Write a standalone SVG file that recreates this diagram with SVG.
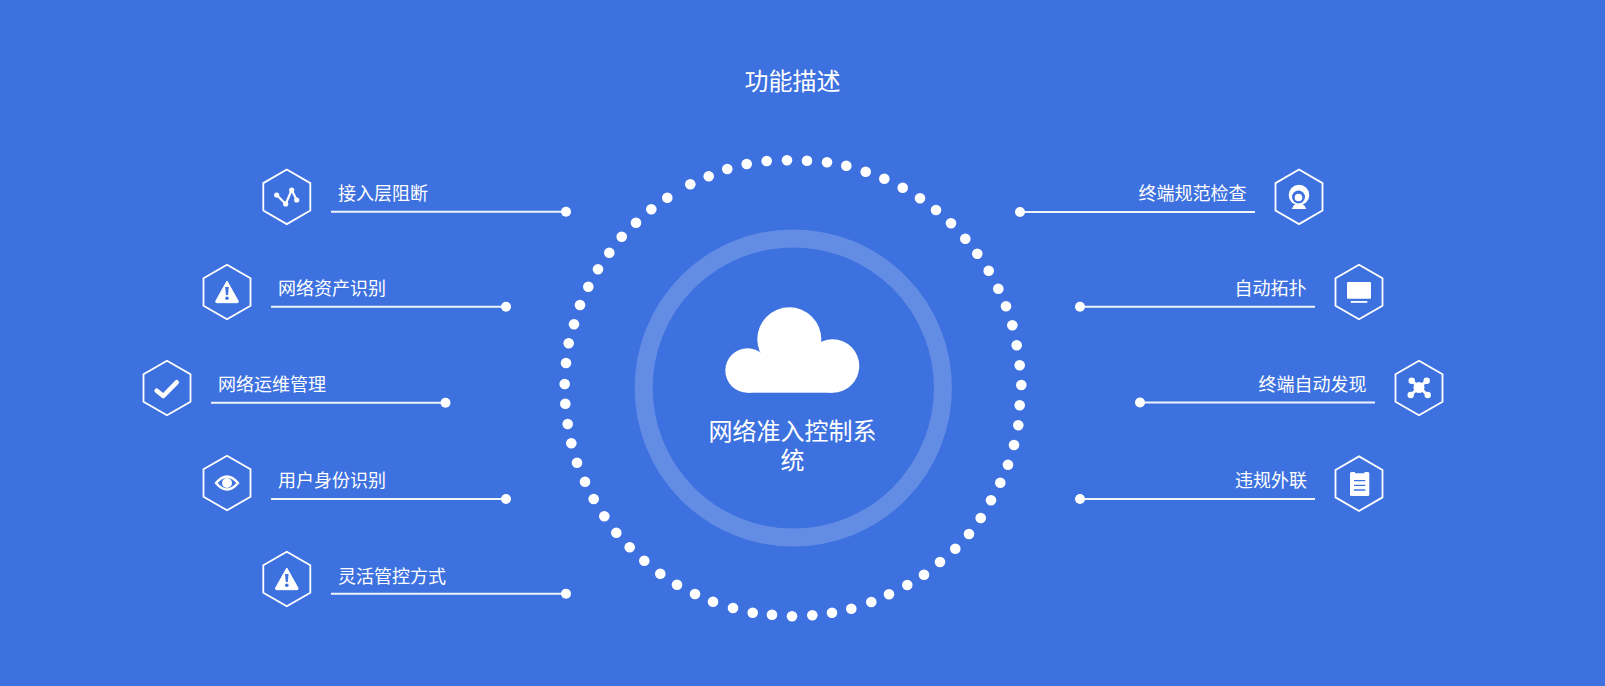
<svg xmlns="http://www.w3.org/2000/svg" width="1605" height="686" viewBox="0 0 1605 686">
<style>
text{font-family:"Noto Sans CJK SC","Liberation Sans",sans-serif;fill:#fff}
.lb{font-size:18px}
.hx{fill:none;stroke:#fff;stroke-width:1.8;stroke-linejoin:miter}
.ln{stroke:#fff;stroke-width:2;stroke-opacity:.92;fill:none}
.w{fill:#fff}
.b{fill:#3d71df}
.st{fill:none;stroke:#fff;stroke-linecap:round;stroke-linejoin:round}
.dots circle{fill:#fff}
</style>
<defs>
<polygon id="hex" class="hx" points="0,-27.3 23.5,-13.7 23.5,13.7 0,27.3 -23.5,13.7 -23.5,-13.7"/>
<g id="warn">
<path class="w" d="M0,-11 L11.2,9 Q11.8,10.7 10,10.7 L-10,10.7 Q-11.8,10.7 -11.2,9 Z" stroke="#fff" stroke-linejoin="round"/>
<path class="b" d="M-1.8,-5 L1.8,-5 L1,3 L-1,3 Z"/>
<circle class="b" cx="0" cy="6.2" r="1.8"/>
</g>
</defs>
<rect width="1605" height="686" fill="#3d71df"/>
<text x="792.5" y="90" font-size="24" text-anchor="middle">功能描述</text>

<g id="dots" class="dots">
<circle cx="787" cy="160.3" r="5.3"/><circle cx="807" cy="160.7" r="5.3"/><circle cx="827" cy="162.3" r="5.3"/><circle cx="846.3" cy="165.7" r="5.3"/><circle cx="865.7" cy="171.7" r="5.3"/><circle cx="884.3" cy="178.7" r="5.3"/><circle cx="902.7" cy="187.7" r="5.3"/><circle cx="920" cy="198.3" r="5.3"/><circle cx="936" cy="210" r="5.3"/><circle cx="951" cy="223.3" r="5.3"/><circle cx="965.3" cy="238.7" r="5.3"/><circle cx="977.3" cy="253.7" r="5.3"/><circle cx="988.7" cy="270.7" r="5.3"/><circle cx="998.3" cy="288.7" r="5.3"/><circle cx="1006" cy="306.3" r="5.3"/><circle cx="1012.3" cy="325.3" r="5.3"/><circle cx="1016.7" cy="345.3" r="5.3"/><circle cx="1019.7" cy="365.3" r="5.3"/><circle cx="1021.3" cy="385" r="5.3"/><circle cx="1019.7" cy="405.3" r="5.3"/><circle cx="1018.3" cy="425.3" r="5.3"/><circle cx="1014" cy="445" r="5.3"/><circle cx="1008" cy="464.7" r="5.3"/><circle cx="1000.3" cy="482.7" r="5.3"/><circle cx="991" cy="500.3" r="5.3"/><circle cx="980.7" cy="518" r="5.3"/><circle cx="969" cy="534" r="5.3"/><circle cx="955.3" cy="548.7" r="5.3"/><circle cx="940" cy="562" r="5.3"/><circle cx="924" cy="574.7" r="5.3"/><circle cx="907.3" cy="585" r="5.3"/><circle cx="889" cy="594.3" r="5.3"/><circle cx="871.3" cy="602" r="5.3"/><circle cx="851.3" cy="608.7" r="5.3"/><circle cx="832" cy="612.7" r="5.3"/><circle cx="812.3" cy="615.3" r="5.3"/><circle cx="792" cy="616.3" r="5.3"/><circle cx="772" cy="614.7" r="5.3"/><circle cx="752.7" cy="612.7" r="5.3"/><circle cx="733" cy="608" r="5.3"/><circle cx="713" cy="601.7" r="5.3"/><circle cx="695" cy="594" r="5.3"/><circle cx="677" cy="584.7" r="5.3"/><circle cx="660.3" cy="573.7" r="5.3"/><circle cx="644.3" cy="560.7" r="5.3"/><circle cx="629.7" cy="547.3" r="5.3"/><circle cx="616.3" cy="532.7" r="5.3"/><circle cx="604.3" cy="516.3" r="5.3"/><circle cx="593.7" cy="499" r="5.3"/><circle cx="585" cy="481.7" r="5.3"/><circle cx="577" cy="462.7" r="5.3"/><circle cx="571.3" cy="443.3" r="5.3"/><circle cx="567.7" cy="424" r="5.3"/><circle cx="565.3" cy="403.7" r="5.3"/><circle cx="564.7" cy="384" r="5.3"/><circle cx="566" cy="363" r="5.3"/><circle cx="568.7" cy="343.3" r="5.3"/><circle cx="574" cy="324.3" r="5.3"/><circle cx="580" cy="305" r="5.3"/><circle cx="588.3" cy="286.7" r="5.3"/><circle cx="598" cy="269.3" r="5.3"/><circle cx="609.3" cy="252.7" r="5.3"/><circle cx="621.7" cy="236.7" r="5.3"/><circle cx="636" cy="222.7" r="5.3"/><circle cx="651.3" cy="209.3" r="5.3"/><circle cx="667.3" cy="197.7" r="5.3"/><circle cx="690.3" cy="184.3" r="5.3"/><circle cx="708.7" cy="176.3" r="5.3"/><circle cx="727.3" cy="169" r="5.3"/><circle cx="746.7" cy="164" r="5.3"/><circle cx="766.7" cy="161" r="5.3"/>
</g>

<g id="center">
<circle cx="793.3" cy="388" r="149.6" fill="none" stroke="#fff" stroke-opacity=".2" stroke-width="18"/>
<g class="w"><circle cx="789.3" cy="339.3" r="32"/><circle cx="832.6" cy="366" r="26.7"/><circle cx="747.5" cy="370.5" r="22.2"/><rect x="747.5" y="360" width="85.1" height="32.7"/></g>
<text font-size="24" text-anchor="middle"><tspan x="792.5" y="440">网络准入控制系</tspan><tspan x="792.5" y="469">统</tspan></text>
</g>

<g id="connectors">
<path class="ln" d="M331,211.7H566M271,306.7H506M211,402.7H445.5M271,499H506M331,593.7H566M1020,212H1255M1080,306.7H1315M1140,402.5H1375M1080,499H1315"/>
<g class="w"><circle cx="566" cy="211.7" r="5"/><circle cx="506" cy="306.7" r="5"/><circle cx="445.5" cy="402.7" r="5"/><circle cx="506" cy="499" r="5"/><circle cx="566" cy="593.7" r="5"/><circle cx="1020" cy="212" r="5"/><circle cx="1080" cy="306.7" r="5"/><circle cx="1140" cy="402.5" r="5"/><circle cx="1080" cy="499" r="5"/></g>
</g>

<g id="n1"><use href="#hex" x="286.8" y="196.8"/>
<path class="st" stroke-width="2.2" d="M276.7,195L285.7,204L291.7,190L296.7,200"/>
<g class="w"><circle cx="276.7" cy="195" r="2.6"/><circle cx="285.7" cy="204" r="2.6"/><circle cx="291.7" cy="190" r="2.6"/><circle cx="296.7" cy="200" r="2.6"/></g>
<text class="lb" x="338" y="200">接入层阻断</text></g>

<g id="n2"><use href="#hex" x="227" y="292"/><use href="#warn" x="227" y="292"/>
<text class="lb" x="278" y="295">网络资产识别</text></g>

<g id="n3"><use href="#hex" x="167" y="388"/>
<path class="st" stroke-width="4.6" d="M156.7,390.7L163.3,396L176.7,382.3"/>
<text class="lb" x="218" y="391">网络运维管理</text></g>

<g id="n4"><use href="#hex" x="227" y="483"/>
<path class="st" stroke-width="2.6" d="M216,483Q227,470 238,483Q227,496 216,483Z"/><circle class="w" cx="227" cy="483" r="5"/>
<text class="lb" x="278" y="487">用户身份识别</text></g>

<g id="n5"><use href="#hex" x="286.8" y="579"/><use href="#warn" x="286.8" y="579"/>
<text class="lb" x="338" y="583">灵活管控方式</text></g>

<g id="n6"><use href="#hex" x="1299" y="196.8"/>
<circle class="w" cx="1299" cy="195" r="10.3"/><circle class="b" cx="1298.5" cy="197" r="6.5"/><circle class="w" cx="1298.5" cy="197.5" r="3.8"/>
<path class="w" d="M1294,205H1304L1306.3,209H1291.7Z"/>
<text class="lb" x="1246.5" y="200" text-anchor="end">终端规范检查</text></g>

<g id="n7"><use href="#hex" x="1359" y="292"/>
<rect class="w" x="1347" y="282" width="24" height="16.7" rx="1"/><rect class="w" x="1350.7" y="301" width="16.6" height="1.8"/>
<text class="lb" x="1306.5" y="295" text-anchor="end">自动拓扑</text></g>

<g id="n8"><use href="#hex" x="1419" y="388"/>
<path class="st" stroke-width="3" d="M1411.7,380.7L1427.7,395M1426.7,380.7L1410.7,395"/>
<g class="w"><circle cx="1419" cy="387.5" r="5.5"/><circle cx="1411.7" cy="380.7" r="3.2"/><circle cx="1426.7" cy="380.7" r="3.2"/><circle cx="1410.7" cy="395" r="3.2"/><circle cx="1427.7" cy="395" r="3.2"/></g>
<text class="lb" x="1366.5" y="391" text-anchor="end">终端自动发现</text></g>

<g id="n9"><use href="#hex" x="1359" y="483.7"/>
<rect class="w" x="1350" y="472" width="19.3" height="24" rx="1.5"/>
<path stroke="#3d71df" stroke-width="1.3" fill="none" d="M1355,472.6H1364.5M1354,480.7H1365.3M1354,485.3H1365.3M1354,490H1365.3"/>
<text class="lb" x="1307" y="487" text-anchor="end">违规外联</text></g>
</svg>
